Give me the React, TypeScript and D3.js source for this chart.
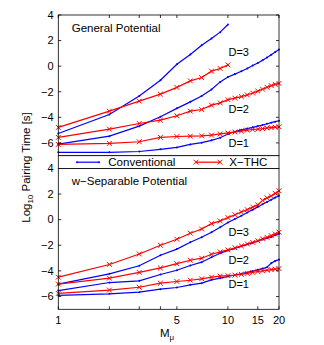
import React from "react";
import * as d3 from "d3";

const M20 = [1, 2, 3, 4, 5, 6, 7, 8, 9, 10, 11, 12, 13, 14, 15, 16, 17, 18, 19, 20];
const M10 = [1, 2, 3, 4, 5, 6, 7, 8, 9, 10];

// General potential
const genConvD3 = [-5.26, -3.78, -2.34, -1.1, 0.15, 0.91, 1.64, 2.16, 2.66, 3.26];
const genThcD3 = [-4.79, -3.52, -2.73, -2.19, -1.66, -1.15, -0.89, -0.39, -0.18, 0.1];
const genConvD2 = [-6.1, -5.47, -4.69, -3.96, -3.3, -2.79, -2.34, -1.82, -1.23, -0.85, -0.62, -0.4, -0.18, 0.05, 0.25, 0.47, 0.68, 0.9, 1.1, 1.3];
const genThcD2 = [-5.57, -4.92, -4.48, -4.22, -3.88, -3.52, -3.39, -3.05, -2.87, -2.62, -2.5, -2.38, -2.25, -2.1, -1.95, -1.8, -1.65, -1.52, -1.42, -1.35];
const genConvD1 = [-6.74, -6.74, -6.67, -6.5, -6.35, -6.12, -5.98, -5.8, -5.6, -5.3, -5.12, -4.98, -4.88, -4.78, -4.68, -4.6, -4.5, -4.42, -4.34, -4.27];
const genThcD1 = [-6.12, -6.04, -5.91, -5.57, -5.5, -5.47, -5.45, -5.39, -5.3, -5.22, -5.15, -5.08, -5.0, -4.95, -4.92, -4.88, -4.83, -4.8, -4.77, -4.74];

// w-separable potential
const sepThcD3 = [-4.49, -3.5, -2.68, -2.0, -1.53, -1.06, -0.73, -0.31, -0.1, 0.16, 0.38, 0.6, 0.78, 0.98, 1.15, 1.5, 1.7, 1.85, 2.05, 2.25];
const sepConvD3 = [-5.04, -4.23, -3.6, -2.78, -2.3, -1.76, -1.37, -0.98, -0.59, -0.23, 0.05, 0.3, 0.55, 0.78, 0.98, 1.2, 1.38, 1.55, 1.72, 1.87];
const sepThcD2 = [-5.03, -4.57, -4.12, -3.77, -3.44, -3.17, -3.01, -2.7, -2.52, -2.36, -2.2, -2.05, -1.9, -1.78, -1.65, -1.5, -1.38, -1.25, -1.12, -0.98];
const sepConvD2 = [-5.54, -4.91, -4.78, -4.28, -3.95, -3.58, -3.32, -2.93, -2.62, -2.4, -2.25, -2.08, -1.93, -1.8, -1.67, -1.55, -1.45, -1.35, -1.22, -1.1];
const sepThcD1 = [-5.76, -5.5, -5.28, -4.96, -4.83, -4.73, -4.62, -4.49, -4.41, -4.37, -4.33, -4.27, -4.2, -4.12, -4.05, -4.0, -3.95, -3.9, -3.86, -3.82];
const sepConvD1 = [-5.92, -5.79, -5.66, -5.43, -5.3, -5.09, -4.96, -4.7, -4.57, -4.44, -4.32, -4.22, -4.12, -4.02, -3.92, -3.82, -3.72, -3.4, -3.22, -3.12];

const xTicks = [1, 2, 3, 4, 5, 10, 15, 20];
const xTickLabels = [1, 5, 10, 15, 20];
const yTicks = [-6, -4, -2, 0, 2, 4];
const dLabels = ["D=3", "D=2", "D=1"];
const dLabelValsTop = [0.8, -3.65, -6.3];
const dLabelValsBot = [-1.3, -3.5, -5.3];

const BLUE = "#0000ff";
const RED = "#ff0000";
const FONT = "'Liberation Sans', Arial, Helvetica, sans-serif";

const L = 58.3, R = 279;
const x = d3.scaleLog().domain([1, 20]).range([L, R]);
const yTop = d3.scaleLinear().domain([-7, 4]).range([155.7, 15]);
const yBot = d3.scaleLinear().domain([-7, 4]).range([309.3, 168.4]);

type Series = { ms: number[]; vals: number[]; kind: "conv" | "thc" };

const topSeries: Series[] = [
  { ms: M10, vals: genConvD3, kind: "conv" },
  { ms: M10, vals: genThcD3, kind: "thc" },
  { ms: M20, vals: genConvD2, kind: "conv" },
  { ms: M20, vals: genThcD2, kind: "thc" },
  { ms: M20, vals: genConvD1, kind: "conv" },
  { ms: M20, vals: genThcD1, kind: "thc" },
];
const botSeries: Series[] = [
  { ms: M20, vals: sepConvD3, kind: "conv" },
  { ms: M20, vals: sepThcD3, kind: "thc" },
  { ms: M20, vals: sepConvD2, kind: "conv" },
  { ms: M20, vals: sepThcD2, kind: "thc" },
  { ms: M20, vals: sepConvD1, kind: "conv" },
  { ms: M20, vals: sepThcD1, kind: "thc" },
];

function XMark({ cx, cy, s = 2.4 }: { cx: number; cy: number; s?: number }) {
  return (
    <path d={`M${cx - s},${cy - s}L${cx + s},${cy + s}M${cx - s},${cy + s}L${cx + s},${cy - s}`} stroke={RED} strokeWidth={1} fill="none" />
  );
}

function Panel({ y, series, title, titleY, dVals, topTicks, bottomTicks }: any) {
  const line = d3.line<[number, number]>().x((d) => x(d[0])).y((d) => y(d[1]));
  const [y0, y1] = y.range();
  return (
    <g>
      {series.map((s: Series, i: number) => {
        const pts: [number, number][] = s.ms.map((m, j) => [m, s.vals[j]]);
        const col = s.kind === "conv" ? BLUE : RED;
        return (
          <g key={i}>
            <path d={line(pts) || ""} stroke={col} strokeWidth={1.2} fill="none" />
            {s.kind === "thc"
              ? pts.map((p, j) => <XMark key={j} cx={x(p[0])} cy={y(p[1])} />)
              : pts.map((p, j) => <circle key={j} cx={x(p[0])} cy={y(p[1])} r={1} fill={BLUE} />)}
          </g>
        );
      })}
      <rect x={L} y={y1} width={R - L} height={y0 - y1} fill="none" stroke="#000" strokeWidth={0.8} />
      {yTicks.map((t) => (
        <g key={t}>
          <line x1={L} x2={L + 3} y1={y(t)} y2={y(t)} stroke="#000" strokeWidth={0.8} />
          <line x1={R - 3} x2={R} y1={y(t)} y2={y(t)} stroke="#000" strokeWidth={0.8} />
          <text x={53.5} y={y(t) + 3.8} textAnchor="end" fontSize={11} fontFamily={FONT} fill="#000">
            {t < 0 ? "\u2212" + Math.abs(t) : String(t)}
          </text>
        </g>
      ))}
      {topTicks && xTicks.map((t) => (
        <line key={"t" + t} x1={x(t)} x2={x(t)} y1={y1} y2={y1 + 3} stroke="#000" strokeWidth={0.8} />
      ))}
      {bottomTicks && xTicks.map((t) => (
        <line key={"b" + t} x1={x(t)} x2={x(t)} y1={y0} y2={y0 - 3} stroke="#000" strokeWidth={0.8} />
      ))}
      <text x={71.7} y={titleY} fontSize={11.5} fontFamily={FONT} fill="#000">{title}</text>
      {dLabels.map((lab, i) => (
        <text key={lab} x={228.5} y={y(dVals[i])} fontSize={11} fontFamily={FONT} fill="#000">{lab}</text>
      ))}
    </g>
  );
}

export default function App() {
  return (
    <svg width={324} height={345} style={{ position: "absolute", left: 0, top: 0, background: "#fff" }}>
      <Panel y={yTop} series={topSeries} title="General Potential" titleY={31.7} dVals={dLabelValsTop} topTicks={true} bottomTicks={false} />
      <Panel y={yBot} series={botSeries} title={"w\u2212Separable Potential"} titleY={185} dVals={dLabelValsBot} topTicks={false} bottomTicks={true} />
      {/* legend */}
      <rect x={L} y={155.7} width={R - L} height={168.4 - 155.7} fill="#fff" stroke="#000" strokeWidth={0.8} />
      <line x1={77} x2={99} y1={162.2} y2={162.2} stroke={BLUE} strokeWidth={1.2} />
      <circle cx={77} cy={162.2} r={1} fill={BLUE} />
      <circle cx={99} cy={162.2} r={1} fill={BLUE} />
      <text x={108.3} y={166.3} fontSize={11.5} fontFamily={FONT} fill="#000">Conventional</text>
      <line x1={196} x2={220} y1={162.2} y2={162.2} stroke={RED} strokeWidth={1.2} />
      <XMark cx={196} cy={162.2} />
      <XMark cx={220} cy={162.2} />
      <text x={229.3} y={166.3} fontSize={11.5} fontFamily={FONT} fill="#000">X{"\u2212"}THC</text>
      {/* x axis labels */}
      {xTickLabels.map((t) => (
        <text key={t} x={x(t)} y={324} textAnchor="middle" fontSize={11} fontFamily={FONT} fill="#000">{t}</text>
      ))}
      <text x={160} y={336.5} fontSize={11.5} fontFamily={FONT} fill="#000">
        M<tspan fontSize={8} dy={3}>{"\u03bc"}</tspan>
      </text>
      <text transform="translate(29.5,167.5) rotate(-90)" textAnchor="middle" fontSize={11.5} fontFamily={FONT} fill="#000">
        Log<tspan fontSize={8} dy={3}>10</tspan><tspan dy={-3}> Pairing Time [s]</tspan>
      </text>
    </svg>
  );
}
